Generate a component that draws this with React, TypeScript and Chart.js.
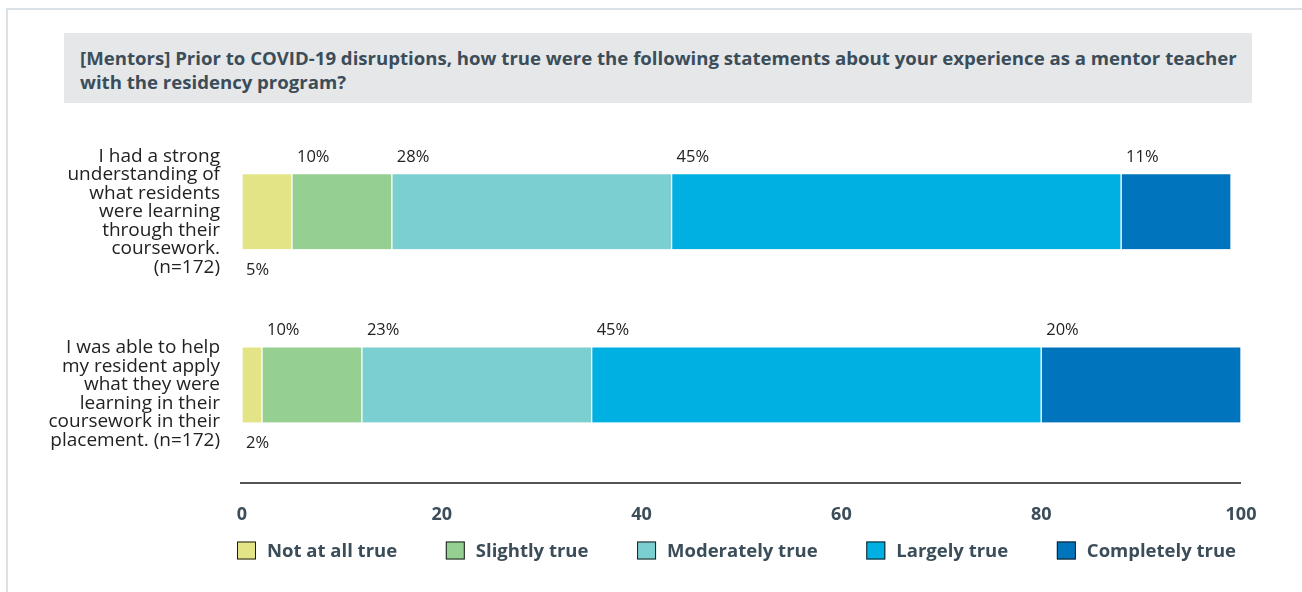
import React, { useEffect, useRef } from "react";
import { Chart, registerables } from "chart.js";

Chart.register(...registerables);

const titleLines = [
  "[Mentors] Prior to COVID-19 disruptions, how true were the following statements about your experience as a mentor teacher",
  "with the residency program?",
];

const categories: string[][] = [
  ["I had a strong", "understanding of", "what residents", "were learning", "through their", "coursework.", "(n=172)"],
  ["", "I was able to help", "my resident apply", "what they were", "learning in their", "coursework in their", "placement. (n=172)"],
];

const seriesNames = ["Not at all true", "Slightly true", "Moderately true", "Largely true", "Completely true"];
const notAtAllTrue = [5, 2];
const slightlyTrue = [10, 10];
const moderatelyTrue = [28, 23];
const largelyTrue = [45, 45];
const completelyTrue = [11, 20];
const xTicks = [0, 20, 40, 60, 80, 100];

const seriesColors = ["#e3e486", "#95cf92", "#7ccfd0", "#00b0e3", "#0075be"];

const FONT = "'Open Sans', 'Noto Sans', sans-serif";
const SLATE = "#3b4d59";

const axisLinePlugin = {
  id: "axisLine",
  afterDraw(chart: any) {
    const { ctx, chartArea } = chart;
    const y = chartArea.bottom + 11.5;
    ctx.save();
    ctx.strokeStyle = "#1a1a1a";
    ctx.lineWidth = 1.5;
    ctx.beginPath();
    ctx.moveTo(chartArea.left - 2, y);
    ctx.lineTo(chartArea.right, y);
    ctx.stroke();
    ctx.restore();
  },
};

const valueLabelPlugin = {
  id: "valueLabels",
  afterDatasetsDraw(chart: any) {
    const { ctx } = chart;
    ctx.save();
    ctx.font = `16.5px ${FONT}`;
    ctx.fillStyle = "#222222";
    ctx.textAlign = "left";
    ctx.textBaseline = "middle";
    chart.data.datasets.forEach((ds: any, di: number) => {
      const meta = chart.getDatasetMeta(di);
      meta.data.forEach((el: any, i: number) => {
        const v = ds.data[i];
        const x0 = Math.min(el.base, el.x);
        const h = el.height;
        const text = `${v}%`;
        if (di === 0) {
          ctx.fillText(text, x0 + 4, el.y + h / 2 + 21);
        } else {
          ctx.fillText(text, x0 + 5, el.y - h / 2 - 17);
        }
      });
    });
    ctx.restore();
  },
};

const legendPlugin = {
  id: "customLegend",
  afterDraw(chart: any) {
    const { ctx, chartArea } = chart;
    ctx.save();
    ctx.font = `bold 18.5px ${FONT}`;
    const items = chart.data.datasets.map((ds: any) => ({
      text: ds.label as string,
      color: ds.backgroundColor as string,
      w: ctx.measureText(ds.label).width,
    }));
    const box = 19;
    const boxH = 18;
    const boxGap = 11;
    const startX = chartArea.left - 5;
    const endX = chartArea.right - 5;
    const total = items.reduce((s: number, it: any) => s + box + boxGap + it.w, 0);
    const gap = (endX - startX - total) / (items.length - 1);
    const boxTop = chartArea.bottom + 70;
    let x = startX;
    ctx.textAlign = "left";
    ctx.textBaseline = "middle";
    items.forEach((it: any) => {
      ctx.fillStyle = it.color;
      ctx.fillRect(x, boxTop, box, boxH);
      ctx.strokeStyle = "#1a1a1a";
      ctx.lineWidth = 1;
      ctx.strokeRect(x + 0.5, boxTop + 0.5, box - 1, boxH - 1);
      ctx.fillStyle = SLATE;
      ctx.fillText(it.text, x + box + boxGap, boxTop + 10);
      x += box + boxGap + it.w + gap;
    });
    ctx.restore();
  },
};

function BarChart() {
  const ref = useRef<HTMLCanvasElement | null>(null);
  useEffect(() => {
    if (!ref.current) return;
    const seriesData = [notAtAllTrue, slightlyTrue, moderatelyTrue, largelyTrue, completelyTrue];
    const chart = new Chart(ref.current, {
      type: "bar",
      data: {
        labels: categories as any,
        datasets: seriesNames.map((name, i) => ({
          label: name,
          data: seriesData[i],
          backgroundColor: seriesColors[i],
          borderColor: "#ffffff",
          borderWidth: { left: 1, right: 1, top: 0, bottom: 0 },
          borderSkipped: false,
          barThickness: 75,
        })),
      },
      options: {
        indexAxis: "y",
        responsive: true,
        maintainAspectRatio: false,
        animation: false,
        layout: { padding: { left: 10, right: 61, top: 15, bottom: 58.5 } },
        scales: {
          x: {
            stacked: true,
            min: 0,
            max: 100,
            afterBuildTicks: (s: any) => {
              s.ticks = xTicks.map((v) => ({ value: v }));
            },
            afterFit: (s: any) => {
              s.height = 62;
              s.paddingLeft = 0;
              s.paddingRight = 0;
            },
            grid: { display: false },
            border: { display: false },
            ticks: {
              padding: 25,
              maxRotation: 0,
              autoSkip: false,
              font: { family: FONT, size: 18, weight: "bold" },
              color: SLATE,
            },
          },
          y: {
            stacked: true,
            afterFit: (s: any) => {
              s.width = 232;
              s.paddingTop = 0;
              s.paddingBottom = 0;
            },
            grid: { display: false },
            border: { display: false },
            ticks: {
              padding: 14,
              crossAlign: "near",
              autoSkip: false,
              font: { family: FONT, size: 19, lineHeight: 18.5 / 19 },
              color: "#222222",
            },
          },
        },
        plugins: {
          legend: { display: false },
          tooltip: { enabled: false },
        },
      } as any,
      plugins: [axisLinePlugin, valueLabelPlugin, legendPlugin],
    });
    return () => chart.destroy();
  }, []);
  return <canvas ref={ref} />;
}

export default function App() {
  return (
    <div
      style={{
        position: "absolute",
        left: 0,
        top: 0,
        width: 1302,
        height: 592,
        overflow: "hidden",
        background: "#ffffff",
        fontFamily: FONT,
      }}
    >
      <div
        style={{
          position: "absolute",
          left: 6,
          top: 8,
          width: 1400,
          height: 700,
          borderLeft: "2px solid #dbe2e7",
          borderTop: "2px solid #dbe2e7",
        }}
      />
      <div
        style={{
          position: "absolute",
          left: 64,
          top: 33,
          width: 1188,
          height: 70,
          background: "#e6e7e9",
          boxSizing: "border-box",
          paddingLeft: 16,
          paddingTop: 13,
          color: SLATE,
          fontWeight: 700,
          fontSize: 18.6,
          lineHeight: "24px",
          whiteSpace: "nowrap",
        }}
      >
        {titleLines.map((l, i) => (
          <div key={i}>{l}</div>
        ))}
      </div>
      <div style={{ position: "absolute", left: 0, top: 110, width: 1302, height: 482 }}>
        <BarChart />
      </div>
    </div>
  );
}
